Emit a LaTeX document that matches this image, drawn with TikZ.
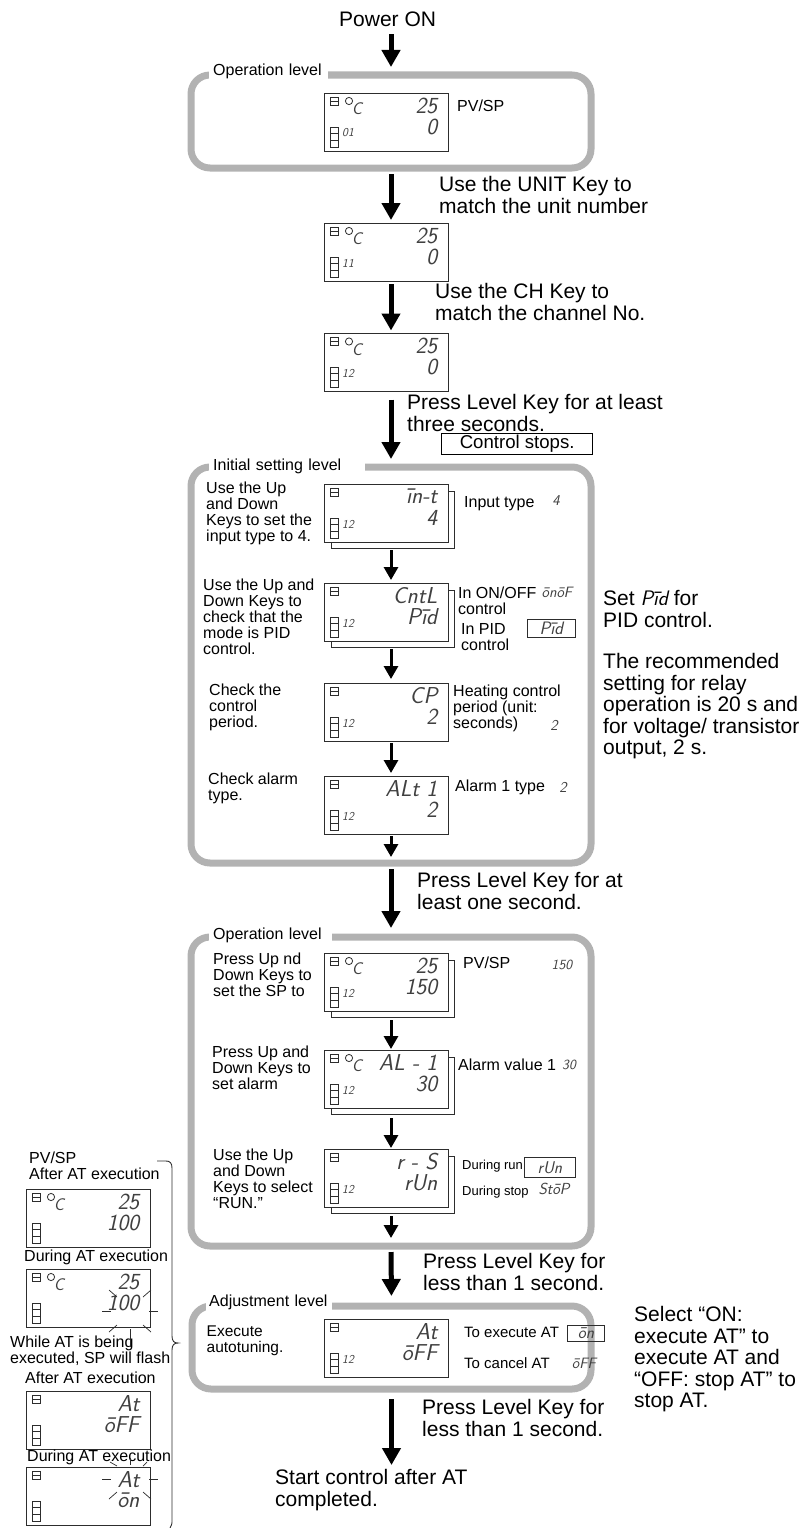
\documentclass[tikz,border=0pt]{standalone}
\usepackage{fontspec}
\setmainfont{Liberation Sans}
\usepackage{xcolor}
\usepackage{tikz}
\usetikzlibrary{
  arrows.meta
}
\definecolor{levelgray}{RGB}{178,178,178}
\definecolor{lcdink}{RGB}{45,45,45}
\newcommand{\lcdfont}[1]{\fontsize{#1}{#1}\selectfont\sffamily\itshape}
\newcommand{\bigsize}{\fontsize{21}{21.6}\selectfont}
\newcommand{\lcdpanel}[5]{
  \node[lcdbox,anchor=north west] (#1) at (#2) {};
  \foreach \ledy/\ledh in {4/4.2,8.2/4.2,34/6,40/7,47/7} {
    \draw[ledkey] ([shift={(6,\ledy)}]#1.north west) rectangle ([shift={(14,\ledy+\ledh)}]#1.north west);
  }
  \node[lcdunit] (#1unit) at ([shift={(24,40)}]#1.north west) {#3};
  \node[lcdmain] (#1upper) at ([shift={(113.5,12.5)}]#1.north west) {#4};
  \node[lcdmain] (#1lower) at ([shift={(113.5,33.5)}]#1.north west) {#5};
}
\newcommand{\lcdstack}[5]{
  \coordinate (#1back) at (#2);
  \draw[lcdsheet] ([shift={(7,7)}]#1back) rectangle ([shift={(130,64)}]#1back);
  \lcdpanel{#1}{#2}{#3}{#4}{#5}
}
\newcommand{\lcddegree}[1]{
  \draw[ledkey,line width=0.8pt] ([shift={(25,8)}]#1.north west) circle (3.6pt);
  \node[lcdunit,font=\lcdfont{17}] (#1deg) at ([shift={(33,16)}]#1.north west) {C};
}
\tikzset{
  lcdbox/.style={draw=lcdink,line width=0.9pt,fill=white,minimum width=124pt,minimum height=58pt,inner sep=0pt,outer sep=0pt},
  lcdsheet/.style={draw=lcdink,line width=0.9pt,fill=white},
  ledkey/.style={draw=lcdink,line width=0.9pt},
  lcdunit/.style={anchor=center,inner sep=0pt,font=\lcdfont{12},text=black!75},
  lcdmain/.style={anchor=east,inner sep=0pt,font=\lcdfont{23},text=black!75},
  lcdword/.style={inner sep=0pt,font=\lcdfont{15},text=black!75},
  lcdframe/.style={draw=lcdink,line width=0.8pt,inner sep=0pt,anchor=north west},
  levelbox/.style={draw=levelgray,line width=7pt,rounded corners=19pt,inner sep=0pt,outer sep=0pt},
  leveltitle/.style={anchor=west,fill=white,inner xsep=4pt,inner ysep=0pt,minimum height=17pt,align=left,font=\fontsize{16}{16}\selectfont},
  bigtext/.style={anchor=north west,inner sep=0pt,align=left,font=\bigsize},
  midtext/.style={anchor=north west,inner sep=0pt,align=left,font=\fontsize{16}{16}\selectfont},
  smalltext/.style={anchor=west,inner sep=0pt,align=left,font=\fontsize{13}{13}\selectfont},
  flowbig/.style={-{Triangle[width=18pt,length=17pt]},line width=5pt,black},
  flowsmall/.style={-{Triangle[width=14pt,length=13pt]},line width=3pt,black},
  flashtick/.style={draw=lcdink,line width=0.7pt},
}
\begin{document}
\begin{tikzpicture}[x=1pt,y=-1pt]
  \useasboundingbox (0,0) rectangle (803,1528);
  \node[bigtext] (power) at (339,12) {Power ON};

  \node[levelbox,minimum width=400pt,minimum height=93pt] (level1) at (391,121.5) {};
  \node[leveltitle,text width=111pt] (level1title) at (209,71) {Operation level};
  \lcdpanel{d1}{324,93}{01}{25}{0}
  \lcddegree{d1}
  \node[midtext] (d1tag) at (457,100) {PV/SP};

  \node[bigtext] (unitkey) at (439,176) {Use the UNIT Key to\\match the unit number};
  \lcdpanel{d2}{324,223}{11}{25}{0}
  \lcddegree{d2}
  \node[bigtext] (chkey) at (435,283) {Use the CH Key to\\match the channel No.};
  \lcdpanel{d3}{324,333.5}{12}{25}{0}
  \lcddegree{d3}
  \node[bigtext] (threesec) at (407,394) {Press Level Key for at least\\three seconds.};
  \node[draw,line width=1.3pt,anchor=north west,minimum width=151pt,minimum height=21pt,inner sep=0pt,text depth=4pt,font=\fontsize{18.6}{19}\selectfont] (stops) at (441,433) {Control stops.};

  \node[levelbox,minimum width=400pt,minimum height=396pt] (level2) at (391,665) {};
  \node[leveltitle,text width=148pt] (level2title) at (209,466) {Initial setting level};
  \lcdstack{d4}{324,484}{12}{īn-t}{4}
  \node[midtext] (d4text) at (206,482) {Use the Up\\and Down\\Keys to set the\\input type to 4.};
  \node[midtext] (d4tag) at (464,496) {Input type};
  \node[lcdword] (d4val) at (556,501) {4};
  \lcdstack{d5}{324,583}{12}{CntL}{Pīd}
  \node[midtext] (d5text) at (203,579) {Use the Up and\\Down Keys to\\check that the\\mode is PID\\control.};
  \node[midtext] (d5tag) at (458,587) {In ON/OFF\\control};
  \node[lcdword] (d5val) at (557,592) {ōnōF};
  \node[midtext] (d5pid) at (461,623) {In PID\\control};
  \node[lcdframe,lcdword,font=\lcdfont{18},anchor=north west,minimum width=48pt,minimum height=18pt] (d5frame) at (527,619) {Pīd};
  \lcdpanel{d6}{324,683}{12}{CP}{2}
  \node[midtext] (d6text) at (209,684) {Check the\\control\\period.};
  \node[midtext] (d6tag) at (453,685) {Heating control\\period (unit:\\seconds)};
  \node[lcdword] (d6val) at (554,725) {2};
  \lcdpanel{d7}{324,776}{12}{ALt 1}{2}
  \node[midtext] (d7text) at (208,773) {Check alarm\\type.};
  \node[midtext] (d7tag) at (455,780) {Alarm 1 type};
  \node[lcdword] (d7val) at (563,787) {2};
  \node[bigtext] (setpid) at (603,590) {Set {\lcdfont{21}Pīd} for\\PID control.};
  \node[bigtext] (relay) at (603,653) {The recommended\\setting for relay\\operation is 20 s and\\for voltage/ transistor\\output, 2 s.};
  \node[bigtext] (onesec) at (417,872) {Press Level Key for at\\least one second.};

  \node[levelbox,minimum width=400pt,minimum height=309pt] (level3) at (391,1091.5) {};
  \node[leveltitle,text width=115pt] (level3title) at (209,935) {Operation level};
  \lcdstack{d8}{324,953}{12}{25}{150}
  \lcddegree{d8}
  \node[midtext] (d8text) at (213,953) {Press Up nd\\Down Keys to\\set the SP to};
  \node[midtext] (d8tag) at (463,957) {PV/SP};
  \node[lcdword,font=\lcdfont{14}] (d8val) at (562,965) {150};
  \lcdstack{d9}{324,1050}{12}{AL - 1}{30}
  \lcddegree{d9}
  \node[midtext] (d9text) at (212,1046) {Press Up and\\Down Keys to\\set alarm};
  \node[midtext] (d9tag) at (458,1059) {Alarm value 1};
  \node[lcdword,font=\lcdfont{14}] (d9val) at (569,1065) {30};
  \lcdstack{d10}{324,1149}{12}{r - S}{rUn}
  \node[midtext] (d10text) at (213,1149) {Use the Up\\and Down\\Keys to select\\“RUN.”};
  \node[smalltext] (d10run) at (462,1166) {During run};
  \node[lcdframe,lcdword,font=\lcdfont{17},minimum width=51pt,minimum height=20pt] (d10frame) at (524,1157) {rUn};
  \node[smalltext] (d10stop) at (462,1192) {During stop};
  \node[lcdword,font=\lcdfont{16}] (d10val) at (554,1189) {StōP};
  \node[bigtext] (less1) at (423,1253) {Press Level Key for\\less than 1 second.};

  \node[levelbox,minimum width=399pt,minimum height=83pt] (level4) at (391.5,1347.5) {};
  \node[leveltitle,text width=120pt,inner xsep=3pt] (level4title) at (206,1302) {Adjustment level};
  \lcdpanel{d11}{324,1319}{12}{At}{ōFF}
  \node[midtext,font=\fontsize{15.5}{16}\selectfont] (d11text) at (206.5,1326) {Execute\\autotuning.};
  \node[smalltext,font=\fontsize{15}{15}\selectfont] (d11on) at (464,1332) {To execute AT};
  \node[lcdframe,lcdword,font=\lcdfont{17},minimum width=37pt,minimum height=16pt] (d11frame) at (567,1325) {ōn};
  \node[smalltext,font=\fontsize{15}{15}\selectfont] (d11off) at (464,1363) {To cancel AT};
  \node[lcdword] (d11val) at (584,1363) {ōFF};
  \node[bigtext] (selecton) at (634,1306) {Select “ON:\\execute AT” to\\execute AT and\\“OFF: stop AT” to\\stop AT.};
  \node[bigtext] (less2) at (422,1399) {Press Level Key for\\less than 1 second.};
  \node[bigtext] (start) at (275,1469) {Start control after AT\\completed.};

  \node[midtext] (pvsp) at (29,1152) {PV/SP\\After AT execution};
  \lcdpanel{l1}{26,1189}{}{25}{100}
  \lcddegree{l1}
  \node[midtext] (l2title) at (24,1250) {During AT execution};
  \lcdpanel{l2}{26,1269}{}{25}{100}
  \lcddegree{l2}
  \node[midtext] (flash) at (10,1336) {While AT is being\\executed, SP will flash};
  \node[midtext] (l3title) at (25,1372) {After AT execution};
  \lcdpanel{l3}{26,1391}{}{At}{ōFF}
  \lcdpanel{l4}{26,1467}{}{At}{ōn}
  \node[midtext] (l4title) at (27,1450) {During AT execution};

  \foreach \fromxy/\toxy in {{76,42}/{85,42},{123,42}/{132,42},{83,21}/{91,28},{125,21}/{117,28},{83,63}/{91,56},{125,63}/{117,56},{104,60}/{104,78}} {
    \draw[flashtick] ([shift={(\fromxy)}]l2.north west) -- ([shift={(\toxy)}]l2.north west);
  }
  \foreach \fromxy/\toxy in {{76,12}/{85,12},{123,12}/{132,12},{84,-5}/{91,-1},{121,-5}/{117,-1},{104,-9}/{104,-2},{83,32}/{91,25},{125,32}/{117,25}} {
    \draw[flashtick] ([shift={(\fromxy)}]l4.north west) -- ([shift={(\toxy)}]l4.north west);
  }
  \draw[lcdink,line width=0.9pt] (157,1161) -- (166,1161) .. controls (170,1161) and (172,1163) .. (172,1168) -- (172,1336) .. controls (172,1341) and (174,1343) .. (178,1343) .. controls (174,1343) and (172,1345) .. (172,1350) -- (172,1520) .. controls (172,1524) .. (170,1528);

  \draw[flowbig,shorten <=7pt,shorten >=8pt] (power.south -| level1.north) -- (level1.north);
  \draw[flowbig,shorten <=6pt,shorten >=3pt] (level1.south) -- ([xshift=5pt]d2.north);
  \draw[flowbig,shorten <=3pt,shorten >=3pt] ([xshift=5pt]d2.south) -- ([xshift=5pt]d3.north);
  \draw[flowbig,shorten <=8pt,shorten >=8pt] ([xshift=5pt]d3.south) -- (level2.north);
  \draw[flowsmall,shorten <=8pt,shorten >=3pt] ([xshift=5pt]d4.south) -- ([xshift=5pt]d5.north);
  \draw[flowsmall,shorten <=8pt,shorten >=4pt] ([xshift=5pt]d5.south) -- ([xshift=5pt]d6.north);
  \draw[flowsmall,shorten <=2pt,shorten >=3pt] ([xshift=5pt]d6.south) -- ([xshift=5pt]d7.north);
  \draw[flowsmall,shorten <=2pt,shorten >=6pt] ([xshift=5pt]d7.south) -- (level2.south);
  \draw[flowbig,shorten <=6pt,shorten >=9pt] (level2.south) -- (level3.north);
  \draw[flowsmall,shorten <=9pt,shorten >=1pt] ([xshift=5pt]d8.south) -- ([xshift=5pt]d9.north);
  \draw[flowsmall,shorten <=10pt,shorten >=1pt] ([xshift=5pt]d9.south) -- ([xshift=5pt]d10.north);
  \draw[flowsmall,shorten <=9pt,shorten >=8pt] ([xshift=5pt]d10.south) -- (level3.south);
  \draw[flowbig,shorten <=6pt,shorten >=10pt] (level3.south) -- (level4.north);
  \draw[flowbig,shorten <=10pt,shorten >=4pt] (level4.south) -- (level4.south |- start.north);
\end{tikzpicture}
\end{document}
